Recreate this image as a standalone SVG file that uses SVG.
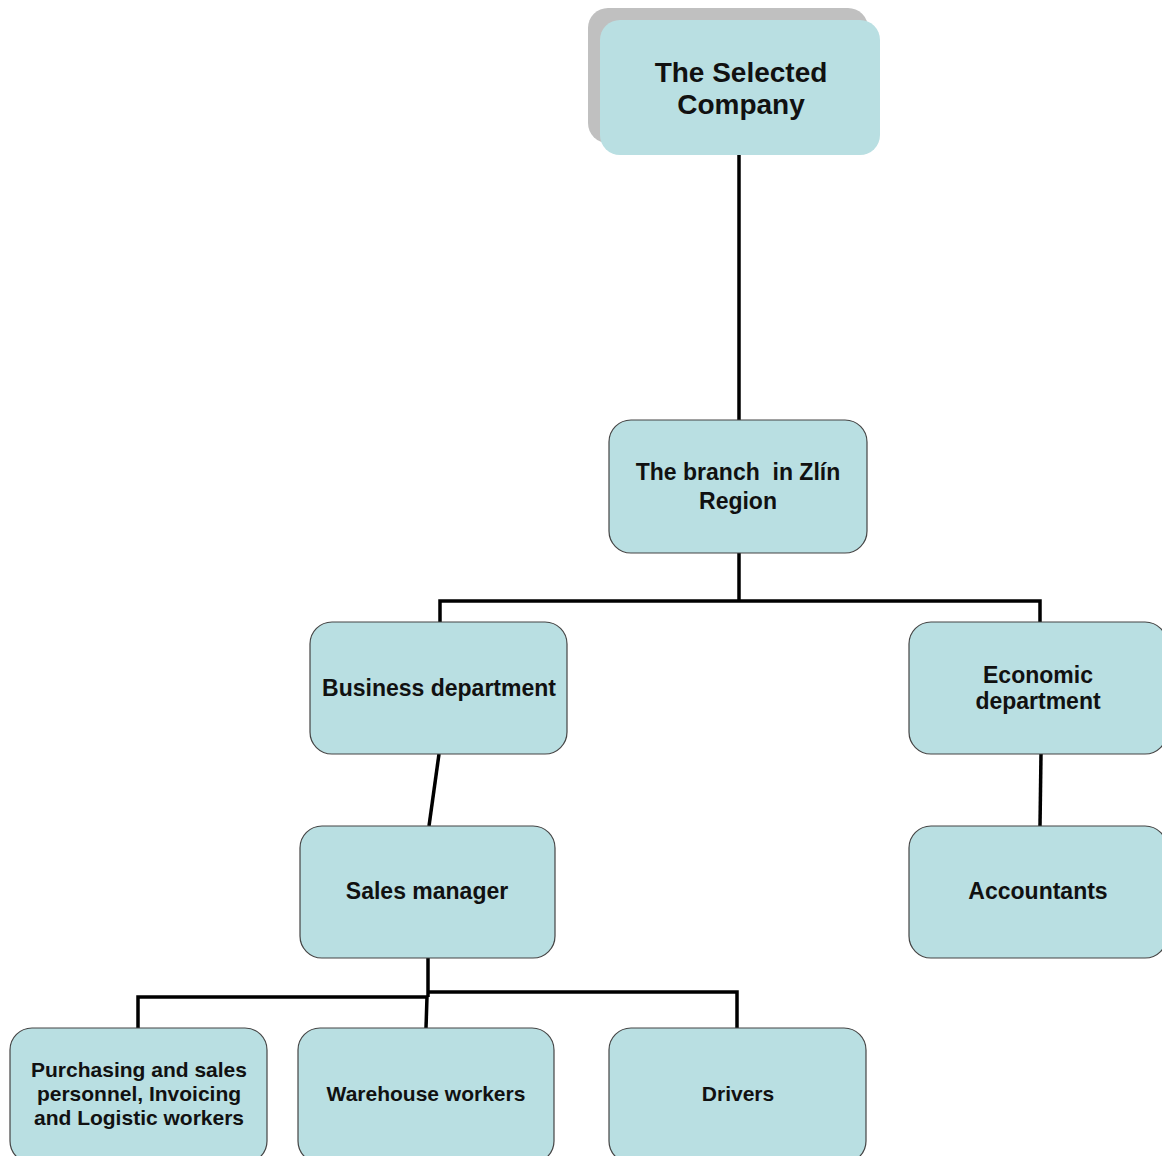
<svg xmlns="http://www.w3.org/2000/svg" width="1162" height="1156" viewBox="0 0 1162 1156">
<style>
.box{fill:#B9DFE2;stroke:#444;stroke-width:1.2}
.top{fill:#B9DFE2}
.shadow{fill:#C0C0C0}
.t{font-family:"Liberation Sans",Arial,sans-serif;font-weight:bold;fill:#111;text-anchor:middle}
.t28{font-size:28px}
.t23{font-size:23px}
.t21{font-size:21px}
.c{fill:none;stroke:#000;stroke-width:3.5;stroke-linecap:butt;stroke-linejoin:miter}
</style>
<rect width="1162" height="1156" fill="#fff"/>
<g id="connectors">
<line class="c" x1="739" y1="155" x2="739" y2="420"/>
<polyline class="c" points="739,553 739,601"/>
<polyline class="c" points="440,622 440,601 1040,601 1040,622"/>
<line class="c" x1="439" y1="754" x2="429" y2="826"/>
<line class="c" x1="1041" y1="754" x2="1040" y2="826"/>
<polyline class="c" points="428,958 428,997"/>
<polyline class="c" points="138,1028 138,997 428,997"/>
<polyline class="c" points="428,992 737,992 737,1028"/>
<line class="c" x1="427" y1="997" x2="426" y2="1028"/>
</g>
<g id="company">
<rect class="shadow" x="588" y="8" width="280" height="135" rx="20"/>
<rect class="top" x="600" y="20" width="280" height="135" rx="20"/>
<text class="t t28" x="741" y="82">The Selected</text>
<text class="t t28" x="741" y="114">Company</text>
</g>
<g id="branch">
<rect class="box" x="609" y="420" width="258" height="133" rx="22"/>
<text class="t t23" x="738" y="480" xml:space="preserve">The branch  in Zlín</text>
<text class="t t23" x="738" y="509">Region</text>
</g>
<g id="business">
<rect class="box" x="310" y="622" width="257" height="132" rx="22"/>
<text class="t t23" x="439" y="696">Business department</text>
</g>
<g id="economic">
<rect class="box" x="909" y="622" width="258" height="132" rx="22"/>
<text class="t t23" x="1038" y="683">Economic</text>
<text class="t t23" x="1038" y="709">department</text>
</g>
<g id="sales">
<rect class="box" x="300" y="826" width="255" height="132" rx="22"/>
<text class="t t23" x="427" y="899">Sales manager</text>
</g>
<g id="accountants">
<rect class="box" x="909" y="826" width="258" height="132" rx="22"/>
<text class="t t23" x="1038" y="899">Accountants</text>
</g>
<g id="purchasing">
<rect class="box" x="10" y="1028" width="257" height="135" rx="22"/>
<text class="t t21" x="139" y="1077">Purchasing and sales</text>
<text class="t t21" x="139" y="1101">personnel, Invoicing</text>
<text class="t t21" x="139" y="1125">and Logistic workers</text>
</g>
<g id="warehouse">
<rect class="box" x="298" y="1028" width="256" height="135" rx="22"/>
<text class="t t21" x="426" y="1101">Warehouse workers</text>
</g>
<g id="drivers">
<rect class="box" x="609" y="1028" width="257" height="135" rx="22"/>
<text class="t t21" x="738" y="1101">Drivers</text>
</g>
</svg>
